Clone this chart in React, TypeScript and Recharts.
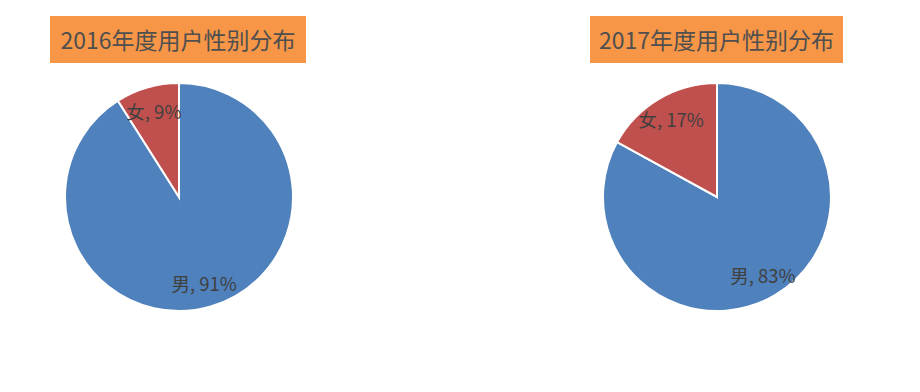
import { PieChart, Pie, Cell } from 'recharts';

const genders = ['男', '女'];
const share2016 = [91, 9];
const share2017 = [83, 17];
const titles = ['2016年度用户性别分布', '2017年度用户性别分布'];

const BLUE = '#4F81BD';
const RED = '#C0504D';
const ORANGE = '#F79646';
const TXT = '#404040';
const FONT = '"Noto Sans CJK SC", "Noto Sans", sans-serif';

const RAD = Math.PI / 180;

function rows(vals: number[]) {
  return genders.map((g, i) => ({ name: g, value: vals[i] }));
}

function label(p: any) {
  const r = p.outerRadius * 0.79;
  const x = p.cx + r * Math.cos(-p.midAngle * RAD);
  const y = p.cy + r * Math.sin(-p.midAngle * RAD);
  return (
    <text x={x} y={y} textAnchor="middle" dominantBaseline="central" fill={TXT}
      fontSize={18.5} fontFamily={FONT}>
      {p.name}, {p.value}%
    </text>
  );
}

const titleStyle = (left: number, width: number): React.CSSProperties => ({
  position: 'absolute', left, top: 16, width, height: 47, background: ORANGE,
  color: '#4f4f4f', fontFamily: FONT, fontSize: 23, lineHeight: '47px', textAlign: 'center',
});

export default function App() {
  return (
    <div style={{ position: 'absolute', left: 0, top: 0, width: 920, height: 392, background: '#fff' }}>
      <PieChart width={920} height={392} margin={{ top: 0, right: 0, bottom: 0, left: 0 }}>
        {[share2016, share2017].map((s, k) => (
          <Pie key={k} data={rows(s)} dataKey="value" nameKey="name" cx={k === 0 ? 179 : 717} cy={197}
            outerRadius={114} startAngle={90} endAngle={-270} stroke="#fff" strokeWidth={2}
            label={label} labelLine={false} isAnimationActive={false}>
            <Cell fill={BLUE} />
            <Cell fill={RED} />
          </Pie>
        ))}
      </PieChart>
      <div style={titleStyle(50, 256)}>{titles[0]}</div>
      <div style={titleStyle(590, 253)}>{titles[1]}</div>
    </div>
  );
}
